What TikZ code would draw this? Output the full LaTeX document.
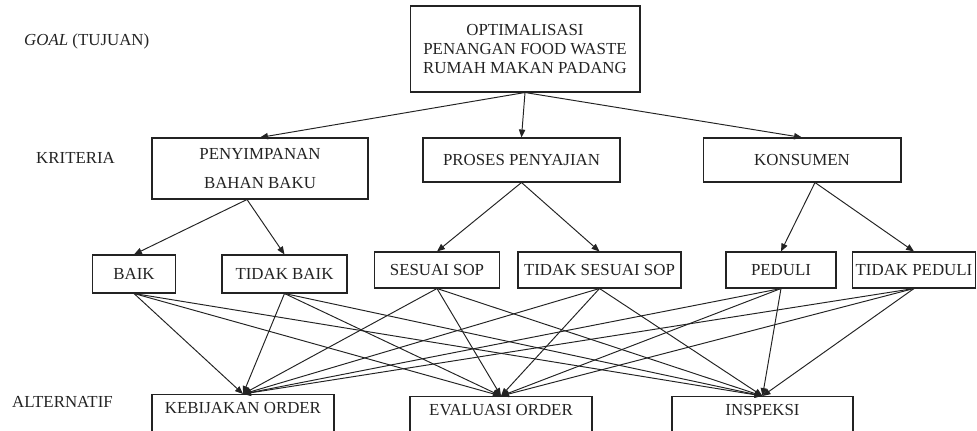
\documentclass[tikz,border=0pt]{standalone}
\usepackage{fontspec}
\setmainfont{Liberation Serif}
\usetikzlibrary{arrows.meta}
\definecolor{ink}{RGB}{35,35,35}
\tikzset{
  block/.style={rectangle, draw=ink, text=ink, line width=0.6pt,
    align=center, inner sep=2pt},
  altblock/.style={rectangle, draw=ink, text=ink, line width=0.6pt,
    anchor=north, text height=7.8pt, text depth=12pt, inner ysep=3pt},
  arrow/.style={-{Triangle[length=4.5pt,width=3.6pt]}, line width=0.55pt, color=ink},
  lbl/.style={anchor=west, text=ink}
}

\begin{document}
\begin{tikzpicture}[x=0.02cm, y=-0.02cm, font={\fontsize{9.6}{11}\selectfont}]
  \useasboundingbox (0,0) rectangle (977,431);

  % --- Level labels ---
  \node[lbl] (lgoal) at (18,41) {\textit{GOAL} (TUJUAN)};
  \node[lbl] (lkrit) at (30,158) {KRITERIA};
  \node[lbl] (lalt) at (6,402) {ALTERNATIF};

  % --- Goal ---
  \node[block, minimum width=4.6cm, minimum height=1.72cm] (goal) at (525,49)
    {OPTIMALISASI\\PENANGAN FOOD WASTE\\RUMAH MAKAN PADANG};

  % --- Criteria ---
  \node[block, minimum width=4.32cm, minimum height=1.22cm] (peny) at (260,168.5)
    {PENYIMPANAN\\[6pt]BAHAN BAKU};
  \node[block, minimum width=3.94cm, minimum height=0.88cm] (proses) at (521.5,160)
    {PROSES PENYAJIAN};
  \node[block, minimum width=3.96cm, minimum height=0.88cm] (kons) at (802,160)
    {KONSUMEN};

  \draw[arrow] (goal.south) -- (peny.north);
  \draw[arrow] (goal.south) -- (proses.north);
  \draw[arrow] (goal.south) -- (kons.north);

  % --- Sub-criteria ---
  \node[block, minimum width=1.66cm, minimum height=0.76cm] (baik) at (134,274) {BAIK};
  \node[block, minimum width=2.5cm, minimum height=0.76cm] (tbaik) at (284.5,274) {TIDAK BAIK};
  \node[block, minimum width=2.5cm, minimum height=0.72cm] (sesuai) at (437,270) {SESUAI SOP};
  \node[block, minimum width=3.26cm, minimum height=0.72cm] (tsesuai) at (599.5,270) {TIDAK SESUAI SOP};
  \node[block, minimum width=2.2cm, minimum height=0.72cm] (peduli) at (781,270) {PEDULI};
  \node[block, minimum width=2.44cm, minimum height=0.72cm] (tpeduli) at (914,270) {TIDAK PEDULI};

  \draw[arrow] ([xshift=-0.26cm]peny.south) -- (baik.north);
  \draw[arrow] ([xshift=-0.26cm]peny.south) -- (tbaik.north);
  \draw[arrow] (proses.south) -- (sesuai.north);
  \draw[arrow] (proses.south) -- (tsesuai.north);
  \draw[arrow] ([xshift=0.26cm]kons.south) -- (peduli.north);
  \draw[arrow] ([xshift=0.26cm]kons.south) -- (tpeduli.north);

  % --- Alternatives ---
  \node[altblock, minimum width=3.64cm] (keb) at (243,394) {KEBIJAKAN ORDER};
  \node[altblock, minimum width=3.64cm] (evalu) at (501,396) {EVALUASI ORDER};
  \node[altblock, minimum width=3.62cm] (insp) at (762.5,396) {INSPEKSI};

  \foreach \src in {baik,tbaik,sesuai,tsesuai,peduli,tpeduli}
    \foreach \dst in {keb,evalu,insp}
      \draw[arrow] (\src.south) -- (\dst.north);
\end{tikzpicture}
\end{document}
